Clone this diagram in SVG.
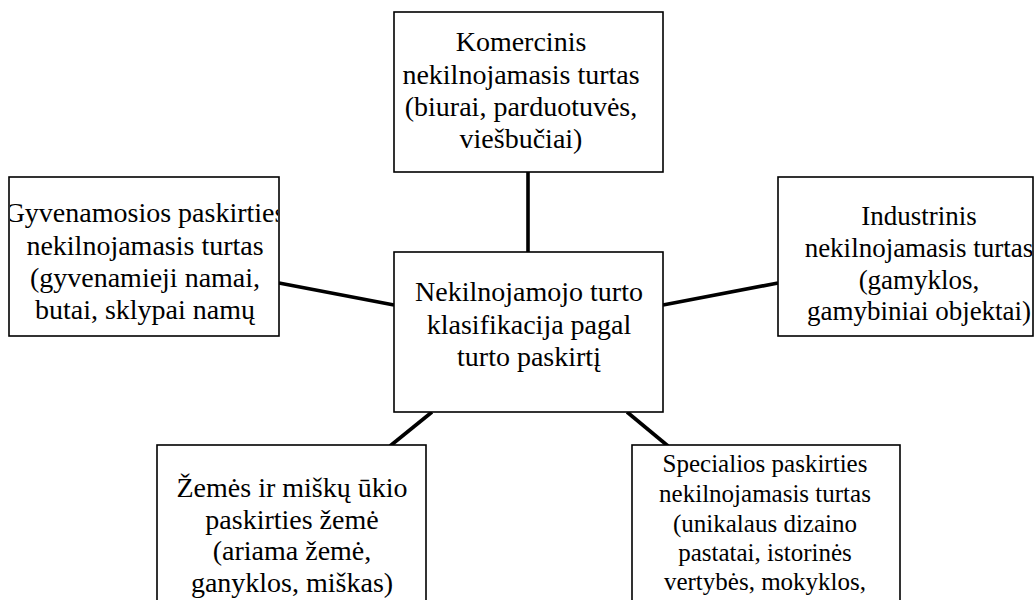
<svg xmlns="http://www.w3.org/2000/svg" width="1035" height="600" viewBox="0 0 1035 600">
<style>
.box{fill:#fff;stroke:#000;stroke-width:1.6}
.conn line{stroke:#000;stroke-width:3.6;stroke-linecap:butt}
.lbl{font-family:'Liberation Serif',serif;fill:#000;text-anchor:middle}
.t28{font-size:28px}
.t27{font-size:27px}
.t25{font-size:25px}
</style>
<defs>
<clipPath id="cL"><rect x="10" y="178" width="268" height="158"/></clipPath>
<clipPath id="cR"><rect x="779" y="178" width="253" height="158"/></clipPath>
</defs>
<g class="conn" id="connectors">
<line x1="528" y1="172" x2="528" y2="252"/>
<line x1="279" y1="283" x2="394" y2="305"/>
<line x1="663" y1="305" x2="778" y2="283"/>
<line x1="390" y1="446" x2="432" y2="412"/>
<line x1="627" y1="412" x2="668" y2="446"/>
</g>
<g id="top">
<rect class="box" x="394" y="12" width="269" height="160"/>
<text class="lbl t28" font-family="Liberation Serif, serif"><tspan x="521" y="51">Komercinis</tspan><tspan x="521" y="83.5">nekilnojamasis turtas</tspan><tspan x="521" y="116">(biurai, parduotuvės,</tspan><tspan x="521" y="148">viešbučiai)</tspan></text>
</g>
<g id="left">
<rect class="box" x="9" y="177" width="270" height="159"/>
<text class="lbl t28" font-family="Liberation Serif, serif" clip-path="url(#cL)"><tspan x="145" y="222">Gyvenamosios paskirties</tspan><tspan x="145" y="255">nekilnojamasis turtas</tspan><tspan x="145" y="287">(gyvenamieji namai,</tspan><tspan x="145" y="319">butai, sklypai namų</tspan></text>
</g>
<g id="center">
<rect class="box" x="394" y="252" width="269" height="160"/>
<text class="lbl t28" font-family="Liberation Serif, serif"><tspan x="529" y="301">Nekilnojamojo turto</tspan><tspan x="529" y="333.5">klasifikacija pagal</tspan><tspan x="529" y="366">turto paskirtį</tspan></text>
</g>
<g id="right">
<rect class="box" x="778" y="177" width="255" height="159"/>
<text class="lbl t27" font-family="Liberation Serif, serif" clip-path="url(#cR)"><tspan x="919" y="225">Industrinis</tspan><tspan x="919" y="257">nekilnojamasis turtas</tspan><tspan x="919" y="288.5">(gamyklos,</tspan><tspan x="919" y="320">gamybiniai objektai)</tspan></text>
</g>
<g id="bottomleft">
<rect class="box" x="157" y="445" width="269" height="175"/>
<text class="lbl t28" font-family="Liberation Serif, serif"><tspan x="292" y="497">Žemės ir miškų ūkio</tspan><tspan x="292" y="528.5">paskirties žemė</tspan><tspan x="292" y="560">(ariama žemė,</tspan><tspan x="292" y="592">ganyklos, miškas)</tspan></text>
</g>
<g id="bottomright">
<rect class="box" x="632" y="445" width="268" height="175"/>
<text class="lbl t25" font-family="Liberation Serif, serif"><tspan x="765" y="472">Specialios paskirties</tspan><tspan x="765" y="502">nekilnojamasis turtas</tspan><tspan x="765" y="531.5">(unikalaus dizaino</tspan><tspan x="765" y="560.5">pastatai, istorinės</tspan><tspan x="765" y="590">vertybės, mokyklos,</tspan></text>
</g>
</svg>
